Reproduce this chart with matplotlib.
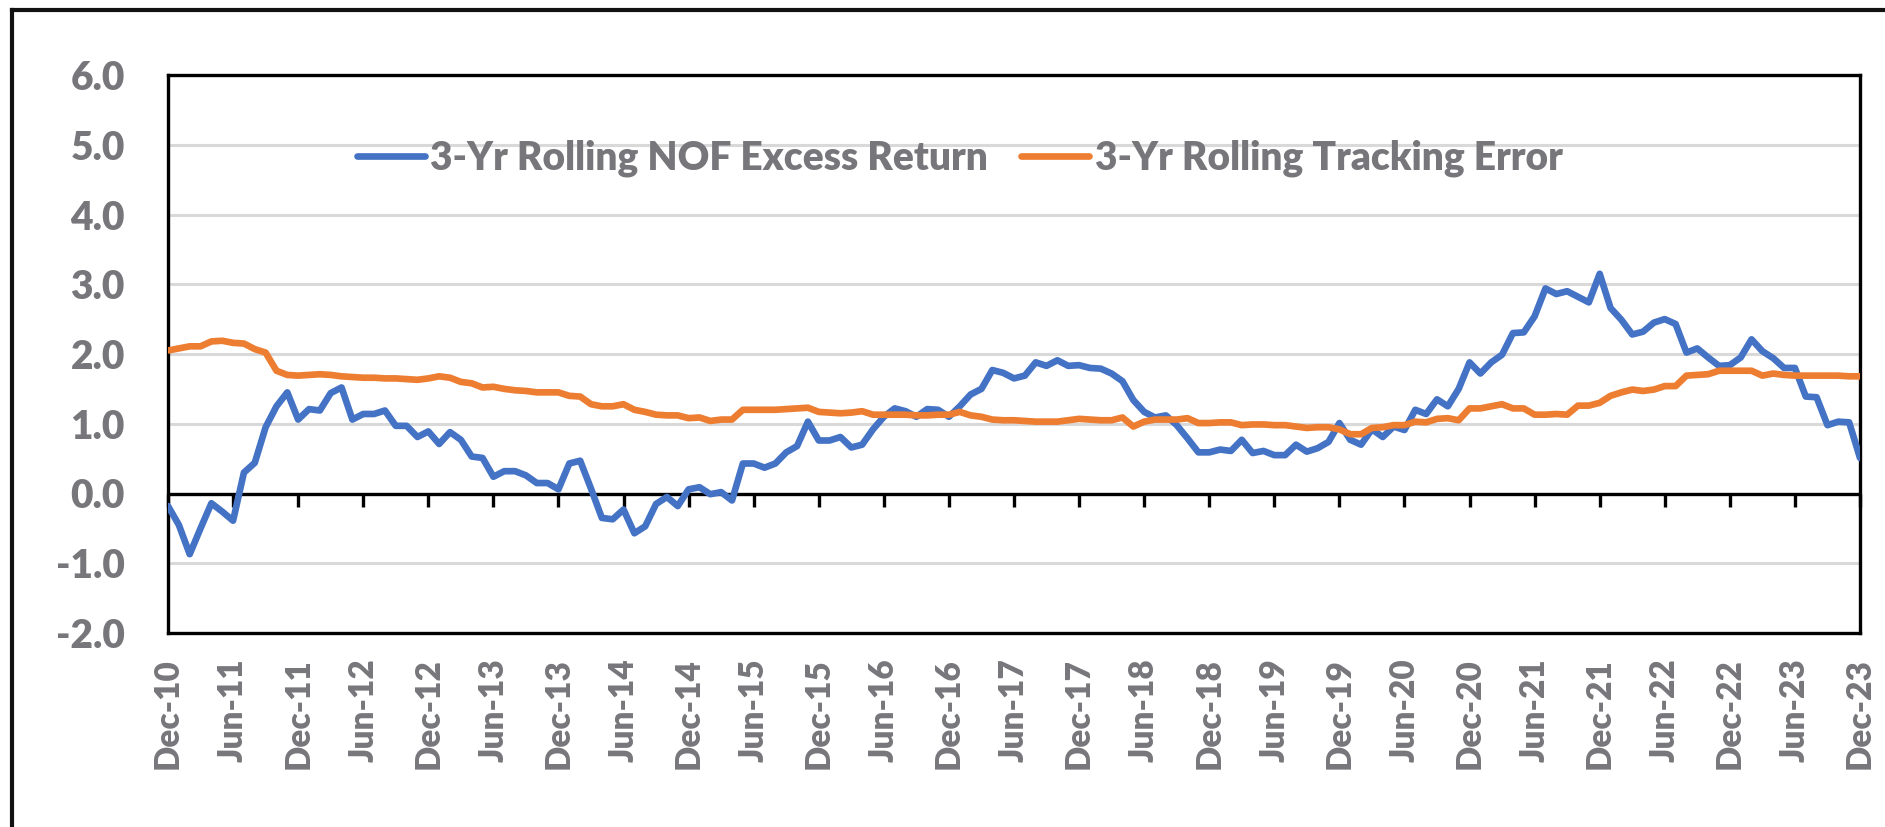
import matplotlib
matplotlib.use('Agg')
import matplotlib.pyplot as plt
from matplotlib.lines import Line2D
from matplotlib.markers import TICKDOWN
import numpy as np
import pandas as pd

# month-end dates, Dec-10 .. Dec-23
dates = pd.date_range('2010-12-31', '2023-12-31', freq='ME')

# 3-yr rolling NOF excess return (%)
excess_return = [
    -0.18, -0.45, -0.87, -0.50, -0.14, -0.26, -0.39, 0.30, 0.44, 0.95,
    1.25, 1.45, 1.06, 1.21, 1.19, 1.44, 1.52, 1.06, 1.14, 1.14,
    1.19, 0.97, 0.97, 0.81, 0.89, 0.71, 0.88, 0.77, 0.53, 0.51,
    0.24, 0.32, 0.32, 0.26, 0.15, 0.15, 0.06, 0.43, 0.47, 0.07,
    -0.35, -0.37, -0.23, -0.57, -0.47, -0.15, -0.05, -0.18, 0.06, 0.09,
    -0.01, 0.02, -0.10, 0.43, 0.43, 0.37, 0.43, 0.59, 0.68, 1.03,
    0.76, 0.76, 0.81, 0.66, 0.70, 0.92, 1.10, 1.22, 1.18, 1.10,
    1.21, 1.20, 1.10, 1.25, 1.42, 1.50, 1.77, 1.73, 1.65, 1.69,
    1.88, 1.83, 1.91, 1.83, 1.84, 1.80, 1.79, 1.72, 1.61, 1.34,
    1.17, 1.09, 1.12, 0.98, 0.79, 0.59, 0.59, 0.63, 0.61, 0.77,
    0.58, 0.61, 0.55, 0.55, 0.70, 0.60, 0.65, 0.74, 1.01, 0.77,
    0.70, 0.92, 0.81, 0.96, 0.91, 1.20, 1.14, 1.35, 1.25, 1.50,
    1.88, 1.72, 1.88, 1.99, 2.30, 2.31, 2.54, 2.94, 2.86, 2.90,
    2.82, 2.74, 3.15, 2.66, 2.49, 2.28, 2.32, 2.45, 2.50, 2.43,
    2.02, 2.08, 1.95, 1.83, 1.84, 1.95, 2.21, 2.04, 1.94, 1.80,
    1.80, 1.39, 1.38, 0.98, 1.03, 1.02, 0.51,
]

# 3-yr rolling tracking error (%)
tracking_error = [
    2.05, 2.08, 2.11, 2.11, 2.18, 2.19, 2.16, 2.15, 2.07, 2.02,
    1.76, 1.70, 1.69, 1.70, 1.71, 1.70, 1.68, 1.67, 1.66, 1.66,
    1.65, 1.65, 1.64, 1.63, 1.65, 1.68, 1.66, 1.60, 1.58, 1.52,
    1.53, 1.50, 1.48, 1.47, 1.45, 1.45, 1.45, 1.40, 1.39, 1.28,
    1.25, 1.25, 1.28, 1.20, 1.17, 1.13, 1.12, 1.12, 1.08, 1.09,
    1.04, 1.06, 1.06, 1.20, 1.20, 1.20, 1.20, 1.21, 1.22, 1.23,
    1.17, 1.16, 1.15, 1.16, 1.18, 1.13, 1.13, 1.13, 1.13, 1.12,
    1.12, 1.13, 1.13, 1.17, 1.12, 1.10, 1.06, 1.05, 1.05, 1.04,
    1.03, 1.03, 1.03, 1.05, 1.07, 1.06, 1.05, 1.05, 1.09, 0.96,
    1.03, 1.06, 1.06, 1.06, 1.08, 1.01, 1.01, 1.02, 1.02, 0.98,
    0.99, 0.99, 0.98, 0.98, 0.96, 0.94, 0.95, 0.95, 0.92, 0.85,
    0.85, 0.94, 0.95, 0.98, 0.98, 1.03, 1.02, 1.07, 1.08, 1.05,
    1.22, 1.22, 1.25, 1.28, 1.22, 1.22, 1.13, 1.13, 1.14, 1.13,
    1.26, 1.26, 1.30, 1.40, 1.45, 1.49, 1.47, 1.49, 1.54, 1.54,
    1.69, 1.70, 1.71, 1.76, 1.76, 1.76, 1.76, 1.69, 1.72, 1.70,
    1.69, 1.69, 1.69, 1.69, 1.69, 1.68, 1.68,
]

y_ticks = [-2, -1, 0, 1, 2, 3, 4, 5, 6]
label_return = '3-Yr Rolling NOF Excess Return'
label_te = '3-Yr Rolling Tracking Error'

# ----------------------------- style ----------------------------- #
plt.rcParams['font.family'] = ['Lato', 'DejaVu Sans']
plt.rcParams['font.weight'] = 'heavy'
grey_txt = '#77777b'
blue = '#4472c4'
orange = '#ed7d31'

x = np.arange(len(dates))
xt = x[::6]
xt_labels = [d.strftime('%b-%y') for d in dates[::6]]

fig = plt.figure(figsize=(18.85, 8.27), dpi=100)
ax = fig.add_axes([168 / 1885, 1 - 633 / 827, (1860 - 168) / 1885, (633 - 75) / 827])

# outer chart frame (only left/top edges are inside the picture)
fig.add_artist(Line2D([12 / 1885, 12 / 1885], [0, 1 - 10 / 827], transform=fig.transFigure,
                      color='#111111', lw=3))
fig.add_artist(Line2D([12 / 1885, 1], [1 - 10 / 827, 1 - 10 / 827], transform=fig.transFigure,
                      color='#111111', lw=3))

ax.grid(axis='y', color='#d9d9d9', lw=2.2, zorder=0)
ax.set_axisbelow(True)
ax.axhline(0, color='black', lw=2.4, zorder=2)
ax.plot(xt, np.zeros(len(xt)), ls='none', marker=TICKDOWN, ms=9, mew=2.4,
        color='black', clip_on=False, zorder=2)

ax.plot(x, excess_return, color=blue, lw=4.8, label=label_return,
        solid_joinstyle='round', solid_capstyle='round', zorder=3)
ax.plot(x, tracking_error, color=orange, lw=4.8, label=label_te,
        solid_joinstyle='round', solid_capstyle='round', zorder=3)

ax.set_xlim(x[0], x[-1])
ax.set_ylim(-2, 6)
ax.set_yticks(y_ticks)
ax.set_yticklabels([f'{v:.1f}' for v in y_ticks])
ax.set_xticks(xt)
ax.set_xticklabels(xt_labels, rotation=90)
ax.tick_params(axis='y', length=0, pad=31, labelsize=28, labelcolor=grey_txt)
ax.tick_params(axis='x', length=0, pad=18, labelsize=24, labelcolor=grey_txt)
for s in ax.spines.values():
    s.set_color('black')
    s.set_linewidth(2.4)

leg = ax.legend(loc='center', bbox_to_anchor=(0.468, 0.850), ncol=2, frameon=False,
                fontsize=28, handlelength=1.75, handletextpad=0.15, columnspacing=0.85,
                borderaxespad=0, borderpad=0)
for t in leg.get_texts():
    t.set_color(grey_txt)

fig.savefig('out.png', dpi=100)
